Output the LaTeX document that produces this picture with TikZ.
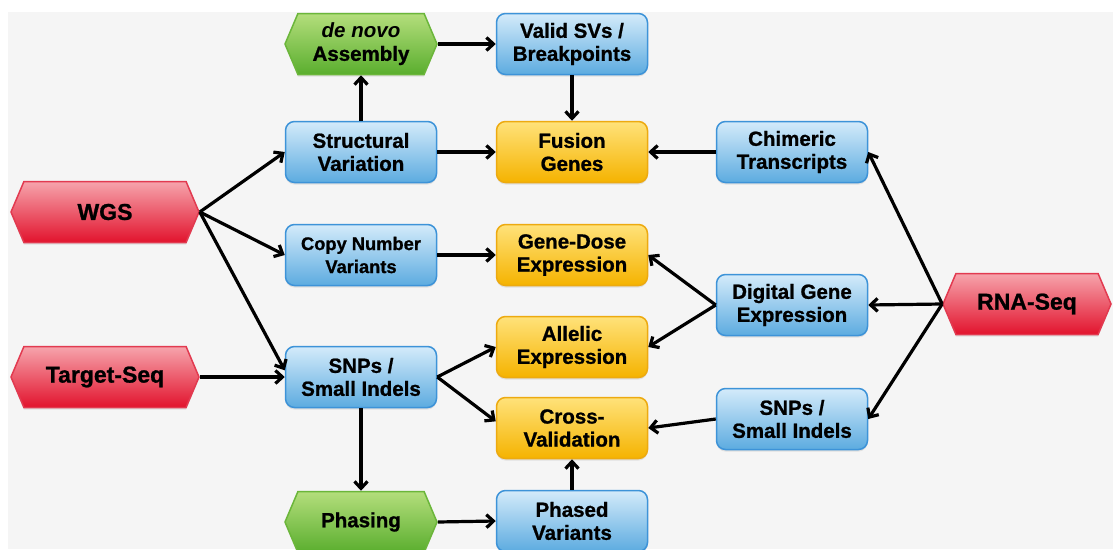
\documentclass[tikz,border=0pt]{standalone}
\usepackage{fontspec}
\setmainfont{Liberation Sans}[BoldFeatures={FakeBold=1}]
\usetikzlibrary{arrows.meta,shapes.symbols,shadows}

\definecolor{paper}{HTML}{F5F5F5}
\definecolor{bluetop}{HTML}{D4EBFA}
\definecolor{bluebot}{HTML}{5CABE0}
\definecolor{blueline}{HTML}{3D93D8}
\definecolor{yellowtop}{HTML}{FFE27A}
\definecolor{yellowbot}{HTML}{F5B300}
\definecolor{yellowline}{HTML}{EDAA10}
\definecolor{greentop}{HTML}{B4DE7C}
\definecolor{greenbot}{HTML}{5AAE2E}
\definecolor{greenline}{HTML}{6BB63A}
\definecolor{redtop}{HTML}{F6A4AC}
\definecolor{redbot}{HTML}{E2132D}
\definecolor{redline}{HTML}{E23A50}

\begin{document}
\begin{tikzpicture}[x=1pt,y=-1pt,
    every node/.style={font=\fontsize{20.5}{23}\selectfont\bfseries, align=center, inner sep=0pt},
    shade/.style={drop shadow={opacity=0.18,shadow xshift=0pt,shadow yshift=-2pt}},
    bluebox/.style={shade, rectangle, rounded corners=9pt, minimum width=151pt, minimum height=61pt,
        draw=blueline, line width=1.5pt, top color=bluetop, bottom color=bluebot},
    yellowbox/.style={bluebox, draw=yellowline, top color=yellowtop, bottom color=yellowbot},
    greenhex/.style={shade, signal, signal to=west and east, signal pointer angle=134,
        minimum width=152pt, minimum height=61pt,
        draw=greenline, line width=1.5pt, top color=greentop, bottom color=greenbot},
    redhex/.style={greenhex, minimum width=188pt, draw=redline, top color=redtop, bottom color=redbot,
        font=\fontsize{23}{26}\selectfont\bfseries},
    flow/.style={line width=3.2pt, -{Straight Barb[length=7pt,width=13pt]}}]

    \useasboundingbox (0,0) rectangle (1113,549);
    \fill[paper] (8,12) rectangle (1113,549);

    % sources
    \node[redhex] (wgs) at (105,212) {WGS};
    \node[redhex] (target) at (105,377) {Target-Seq};
    \node[redhex, minimum width=168pt] (rna) at (1027,304) {RNA-Seq};

    % first column
    \node[greenhex] (denovo) at (361,44) {\textit{de novo}\\Assembly};
    \node[bluebox] (sv) at (361,152) {Structural\\Variation};
    \node[bluebox, font=\fontsize{18.3}{23}\selectfont\bfseries] (cnv) at (361,255) {Copy Number\\Variants};
    \node[bluebox] (snpl) at (361,377) {SNPs /\\Small Indels};
    \node[greenhex] (phasing) at (361,522) {Phasing};

    % second column
    \node[bluebox] (valid) at (572,44) {Valid SVs /\\Breakpoints};
    \node[yellowbox] (fusion) at (572,152) {Fusion\\Genes};
    \node[yellowbox] (dose) at (572,255) {Gene-Dose\\Expression};
    \node[yellowbox] (allelic) at (572,347) {Allelic\\Expression};
    \node[yellowbox] (cross) at (572,428) {Cross-\\Validation};
    \node[bluebox] (phased) at (572,521) {Phased\\Variants};

    % third column
    \node[bluebox] (chimeric) at (792,152) {Chimeric\\Transcripts};
    \node[bluebox] (dge) at (792,305) {Digital Gene\\Expression};
    \node[bluebox] (snpr) at (792,419) {SNPs /\\Small Indels};

    % DNA side
    \draw[flow] (wgs.east) -- (sv.west);
    \draw[flow] (wgs.east) -- (cnv.west);
    \draw[flow] (wgs.east) -- (snpl.175);
    \draw[flow] (target.east) -- (snpl.west);
    \draw[flow] (sv.north) -- (denovo.south);
    \draw[flow] (denovo.east) -- (valid.west);
    \draw[flow] (valid.south) -- (fusion.north);
    \draw[flow] (sv.east) -- (fusion.west);
    \draw[flow] (cnv.east) -- (dose.west);
    \draw[flow] (snpl.east) -- (allelic.west);
    \draw[flow] (snpl.east) -- (cross.175);
    \draw[flow] (snpl.south) -- (phasing.north);
    \draw[flow] (phasing.east) -- (phased.west);
    \draw[flow] (phased.north) -- (cross.south);

    % RNA side
    \draw[flow] (rna.west) -- (chimeric.east);
    \draw[flow] (rna.west) -- (dge.east);
    \draw[flow] (rna.west) -- (snpr.east);
    \draw[flow] (chimeric.west) -- (fusion.east);
    \draw[flow] (dge.west) -- (dose.east);
    \draw[flow] (dge.west) -- (allelic.east);
    \draw[flow] (snpr.west) -- (cross.east);
\end{tikzpicture}
\end{document}
